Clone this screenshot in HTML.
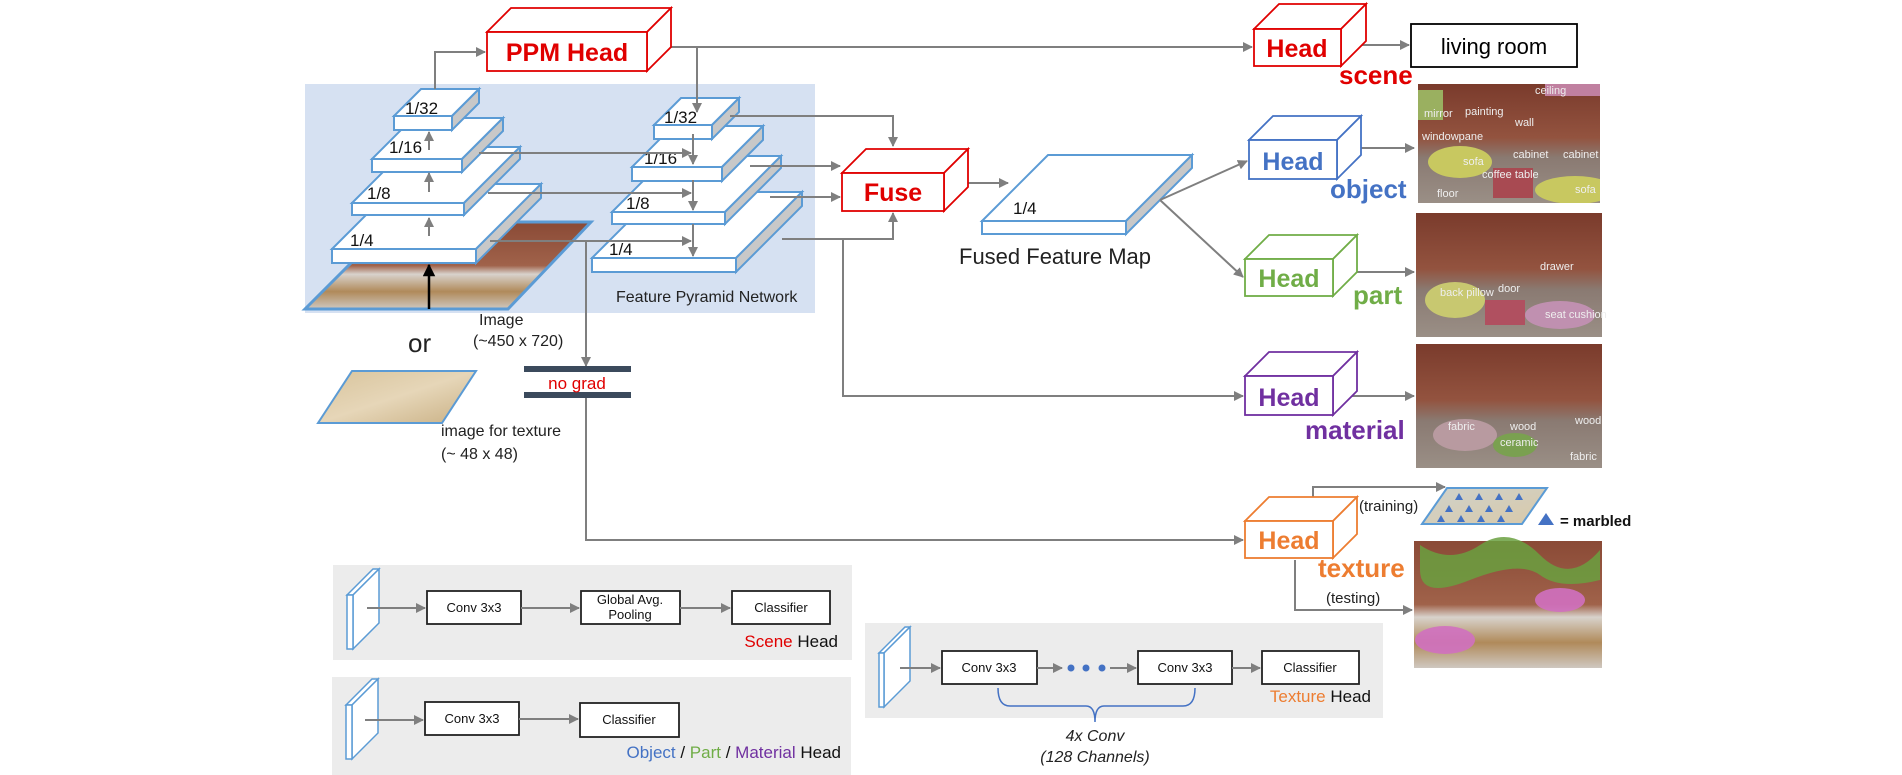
<!DOCTYPE html>
<html><head><meta charset="utf-8"><style>
html,body{margin:0;padding:0;background:#fff;}
svg{display:block;font-family:"Liberation Sans",sans-serif;}
</style></head><body>
<svg width="1902" height="775" viewBox="0 0 1902 775" xmlns="http://www.w3.org/2000/svg">
<defs>
<marker id="ar" viewBox="0 0 10 10" refX="9" refY="5" markerWidth="5" markerHeight="5" orient="auto"><path d="M0,0 L10,5 L0,10 z" fill="#7f7f7f"/></marker>
<marker id="arb" viewBox="0 0 10 10" refX="9" refY="5" markerWidth="5" markerHeight="5" orient="auto"><path d="M0,0 L10,5 L0,10 z" fill="#000"/></marker>
<linearGradient id="room" x1="0" y1="0" x2="0" y2="1">
<stop offset="0" stop-color="#7a3b2c"/><stop offset="0.45" stop-color="#93533f"/><stop offset="0.62" stop-color="#8a7a72"/><stop offset="1" stop-color="#9a8f86"/></linearGradient>
<linearGradient id="room2" x1="0" y1="0" x2="0" y2="1">
<stop offset="0" stop-color="#8a4a36"/><stop offset="0.5" stop-color="#a0624a"/><stop offset="0.6" stop-color="#d8d2cc"/><stop offset="0.8" stop-color="#b08a5a"/><stop offset="1" stop-color="#cfc8c0"/></linearGradient>
<linearGradient id="sand" x1="0" y1="0" x2="1" y2="1">
<stop offset="0" stop-color="#d8c49c"/><stop offset="0.5" stop-color="#e6d6b8"/><stop offset="1" stop-color="#c9b084"/></linearGradient>
<linearGradient id="sand2" x1="0" y1="0" x2="1" y2="1">
<stop offset="0" stop-color="#cfd2cc"/><stop offset="1" stop-color="#d9c9a8"/></linearGradient>
<clipPath id="c1"><rect x="1418" y="84" width="182" height="119"/></clipPath>
</defs>

<rect x="305" y="84" width="510" height="229" fill="#d6e1f2"/>

<polygon points="305,309 392,222 591,222 508,309" fill="url(#room2)" stroke="#5b9bd5" stroke-width="3"/>

<g stroke="#5b9bd5" stroke-width="2">
<polygon points="332,249 397,184 541,184 476,249" fill="#fff"/><polygon points="476,249 541,184 541,198 476,263" fill="#c8c8c8"/><rect x="332" y="249" width="144" height="14" fill="#fff"/>
<polygon points="352,203 408,147 520,147 464,203" fill="#fff"/><polygon points="464,203 520,147 520,159 464,215" fill="#c8c8c8"/><rect x="352" y="203" width="112" height="12" fill="#fff"/>
<polygon points="372,159 413,118 503,118 462,159" fill="#fff"/><polygon points="462,159 503,118 503,131 462,172" fill="#c8c8c8"/><rect x="372" y="159" width="90" height="13" fill="#fff"/>
<polygon points="394,116 421,89 479,89 452,116" fill="#fff"/><polygon points="452,116 479,89 479,103 452,130" fill="#c8c8c8"/><rect x="394" y="116" width="58" height="14" fill="#fff"/>
<polygon points="592,258 658,192 802,192 736,258" fill="#fff"/><polygon points="736,258 802,192 802,206 736,272" fill="#c8c8c8"/><rect x="592" y="258" width="144" height="14" fill="#fff"/>
<polygon points="612,212 668,156 781,156 725,212" fill="#fff"/><polygon points="725,212 781,156 781,168 725,224" fill="#c8c8c8"/><rect x="612" y="212" width="113" height="12" fill="#fff"/>
<polygon points="632,167 673,126 763,126 722,167" fill="#fff"/><polygon points="722,167 763,126 763,140 722,181" fill="#c8c8c8"/><rect x="632" y="167" width="90" height="14" fill="#fff"/>
<polygon points="654,125 681,98 739,98 712,125" fill="#fff"/><polygon points="712,125 739,98 739,112 712,139" fill="#c8c8c8"/><rect x="654" y="125" width="58" height="14" fill="#fff"/>
<polygon points="982,221 1048,155 1192,155 1126,221" fill="#fff"/><polygon points="1126,221 1192,155 1192,168 1126,234" fill="#c8c8c8"/><rect x="982" y="221" width="144" height="13" fill="#fff"/>
</g>

<g font-size="17" fill="#111">
<text x="405" y="114">1/32</text><text x="389" y="153">1/16</text><text x="367" y="199">1/8</text><text x="350" y="246">1/4</text>
<text x="664" y="123">1/32</text><text x="644" y="164">1/16</text><text x="626" y="209">1/8</text><text x="609" y="255">1/4</text>
<text x="1013" y="214">1/4</text>
</g>
<text x="616" y="302" font-size="16" fill="#222">Feature Pyramid Network</text>
<text x="959" y="264" font-size="22" fill="#222">Fused Feature Map</text>

<g stroke="#7f7f7f" stroke-width="2" fill="none" marker-end="url(#ar)">
<path d="M435 89 V52 H485"/>
<path d="M658 47 H1252"/>
<path d="M697 47 V112"/>
<path d="M429 150 V132"/><path d="M429 192 V173"/><path d="M429 236 V218"/>
<path d="M479 153 H691"/><path d="M488 193 H691"/><path d="M490 241 H691"/>
<path d="M693 134 V164"/><path d="M693 180 V210"/><path d="M693 224 V256"/>
<path d="M730 116 H893 V146"/>
<path d="M750 166 H840"/><path d="M770 197 H840"/>
<path d="M782 239 H893 V213"/>
<path d="M843 239 V396 H1243"/>
<path d="M954 183 H1008"/>
<path d="M1160 200 L1247 161"/><path d="M1160 200 L1243 277"/>
<path d="M1352 45 H1409"/><path d="M1348 148 H1414"/><path d="M1348 272 H1414"/><path d="M1348 396 H1414"/>
<path d="M586 241 V366"/>
<path d="M586 397 V540 H1243"/>
<path d="M1313 497 V487 H1445"/>
<path d="M1295 560 V610 H1412"/>
</g>
<path d="M429 309 V265" stroke="#000" stroke-width="2.5" marker-end="url(#arb)"/>

<g fill="#fff" stroke-width="1.8">
<g stroke="#e00000"><polygon points="487,32 511,8 671,8 647,32"/><polygon points="647,32 671,8 671,47 647,71"/><rect x="487" y="32" width="160" height="39"/></g>
<g stroke="#e00000"><polygon points="842,173 866,149 968,149 944,173"/><polygon points="944,173 968,149 968,187 944,211"/><rect x="842" y="173" width="102" height="38"/></g>
<g stroke="#e00000"><polygon points="1254,29 1279,4 1366,4 1341,29"/><polygon points="1341,29 1366,4 1366,41 1341,66"/><rect x="1254" y="29" width="87" height="37"/></g>
<g stroke="#4472c4"><polygon points="1249,140 1273,116 1361,116 1337,140"/><polygon points="1337,140 1361,116 1361,155 1337,179"/><rect x="1249" y="140" width="88" height="39"/></g>
<g stroke="#70ad47"><polygon points="1245,259 1269,235 1357,235 1333,259"/><polygon points="1333,259 1357,235 1357,272 1333,296"/><rect x="1245" y="259" width="88" height="37"/></g>
<g stroke="#7030a0"><polygon points="1245,376 1269,352 1357,352 1333,376"/><polygon points="1333,376 1357,352 1357,391 1333,415"/><rect x="1245" y="376" width="88" height="39"/></g>
<g stroke="#ed7d31"><polygon points="1245,521 1269,497 1357,497 1333,521"/><polygon points="1333,521 1357,497 1357,534 1333,558"/><rect x="1245" y="521" width="88" height="37"/></g>
</g>
<g font-weight="bold" font-size="25" text-anchor="middle">
<text x="567" y="61" fill="#e00000">PPM Head</text>
<text x="893" y="201" fill="#e00000">Fuse</text>
<text x="1297" y="57" fill="#e00000">Head</text>
<text x="1293" y="170" fill="#4472c4">Head</text>
<text x="1289" y="287" fill="#70ad47">Head</text>
<text x="1289" y="406" fill="#7030a0">Head</text>
<text x="1289" y="549" fill="#ed7d31">Head</text>
</g>
<g font-weight="bold" font-size="26">
<text x="1339" y="84" fill="#e00000">scene</text>
<text x="1330" y="198" fill="#4472c4">object</text>
<text x="1353" y="304" fill="#70ad47">part</text>
<text x="1305" y="439" fill="#7030a0">material</text>
<text x="1318" y="577" fill="#ed7d31">texture</text>
</g>

<rect x="1411" y="24" width="166" height="43" fill="#fff" stroke="#000" stroke-width="1.8"/>
<text x="1494" y="54" font-size="22" text-anchor="middle" fill="#000">living room</text>

<g font-size="11" fill="#eee">
<rect x="1418" y="84" width="182" height="119" fill="url(#room)"/>
<g clip-path="url(#c1)">
<ellipse cx="1460" cy="162" rx="32" ry="16" fill="#c8c860"/><ellipse cx="1575" cy="190" rx="40" ry="14" fill="#c8c860"/><rect x="1493" y="168" width="40" height="30" fill="#a84a52"/><path d="M1418 90 h25 v30 h-25z" fill="#9ab060"/><path d="M1545 84 h55 v12 h-55z" fill="#c080a0"/>
</g>
<text x="1424" y="117">mirror</text><text x="1465" y="115">painting</text><text x="1515" y="126">wall</text><text x="1422" y="140">windowpane</text><text x="1463" y="165">sofa</text><text x="1513" y="158">cabinet</text><text x="1563" y="158">cabinet</text><text x="1482" y="178">coffee table</text><text x="1437" y="197">floor</text><text x="1575" y="193">sofa</text><text x="1535" y="94">ceiling</text>
<rect x="1416" y="213" width="186" height="124" fill="url(#room)"/>
<ellipse cx="1455" cy="300" rx="30" ry="18" fill="#c8c870"/><ellipse cx="1560" cy="315" rx="35" ry="14" fill="#c090b0"/><rect x="1485" y="300" width="40" height="25" fill="#b05060"/>
<text x="1440" y="296">back pillow</text><text x="1540" y="270">drawer</text><text x="1498" y="292">door</text><text x="1545" y="318">seat cushion</text>
<rect x="1416" y="344" width="186" height="124" fill="url(#room)"/>
<ellipse cx="1465" cy="435" rx="32" ry="16" fill="#b89aa0"/><ellipse cx="1515" cy="445" rx="22" ry="12" fill="#7aa050"/>
<text x="1448" y="430">fabric</text><text x="1510" y="430">wood</text><text x="1575" y="424">wood</text><text x="1570" y="460">fabric</text><text x="1500" y="446">ceramic</text>
<rect x="1414" y="541" width="188" height="127" fill="url(#room2)"/>
<path d="M1420 545 q30 20 60 0 t60 10 t60 -5 v30 q-40 10 -60 -5 t-70 5 t-50 -10z" fill="#6aa040" opacity="0.85"/>
<ellipse cx="1445" cy="640" rx="30" ry="14" fill="#d070c0" opacity="0.9"/><ellipse cx="1560" cy="600" rx="25" ry="12" fill="#d070c0" opacity="0.9"/>
</g>

<polygon points="1422,524 1447,488 1547,488 1522,524" fill="url(#sand2)" stroke="#5b9bd5" stroke-width="2"/>
<g fill="#4472c4">
<path d="M1455 500 l4 -7 l4 7z"/><path d="M1475 500 l4 -7 l4 7z"/><path d="M1495 500 l4 -7 l4 7z"/><path d="M1515 500 l4 -7 l4 7z"/>
<path d="M1445 512 l4 -7 l4 7z"/><path d="M1465 512 l4 -7 l4 7z"/><path d="M1485 512 l4 -7 l4 7z"/><path d="M1505 512 l4 -7 l4 7z"/>
<path d="M1437 522 l4 -7 l4 7z"/><path d="M1457 522 l4 -7 l4 7z"/><path d="M1477 522 l4 -7 l4 7z"/><path d="M1497 522 l4 -7 l4 7z"/>
<path d="M1538 525 l8 -12 l8 12z"/>
</g>
<text x="1560" y="526" font-size="15" font-weight="bold" fill="#111">= marbled</text>
<text x="1359" y="511" font-size="15" fill="#222">(training)</text>
<text x="1326" y="603" font-size="15" fill="#222">(testing)</text>

<text x="479" y="325" font-size="16" fill="#222">Image</text>
<text x="473" y="346" font-size="16" fill="#222">(~450 x 720)</text>
<text x="408" y="352" font-size="26" fill="#222">or</text>
<polygon points="318,423 352,371 476,371 442,423" fill="url(#sand)" stroke="#5b9bd5" stroke-width="2"/>
<text x="441" y="436" font-size="16" fill="#222">image for texture</text>
<text x="441" y="459" font-size="16" fill="#222">(~ 48 x 48)</text>

<rect x="524" y="366" width="107" height="6" fill="#3b4a5c"/>
<rect x="524" y="392" width="107" height="6" fill="#3b4a5c"/>
<text x="577" y="389" font-size="17" text-anchor="middle" fill="#e00000">no grad</text>

<rect x="333" y="565" width="519" height="95" fill="#ececec"/>
<rect x="332" y="677" width="519" height="98" fill="#ececec"/>
<rect x="865" y="623" width="518" height="95" fill="#ececec"/>
<g fill="#fff" stroke="#5b9bd5" stroke-width="1.5">
<polygon points="347,595 373,569 379,569 353,595"/><polygon points="353,595 379,569 379,623 353,649"/><rect x="347" y="595" width="6" height="54"/>
<polygon points="346,705 372,679 378,679 352,705"/><polygon points="352,705 378,679 378,733 352,759"/><rect x="346" y="705" width="6" height="54"/>
<polygon points="879,653 905,627 910,627 884,653"/><polygon points="884,653 910,627 910,681 884,707"/><rect x="879" y="653" width="5" height="54"/>
</g>
<g fill="#fff" stroke="#222" stroke-width="1.8">
<rect x="427" y="591" width="94" height="33"/><rect x="581" y="591" width="99" height="33"/><rect x="732" y="591" width="98" height="33"/>
<rect x="425" y="702" width="94" height="33"/><rect x="580" y="703" width="99" height="34"/>
<rect x="942" y="651" width="95" height="33"/><rect x="1138" y="651" width="94" height="33"/><rect x="1262" y="651" width="97" height="33"/>
</g>
<g stroke="#7f7f7f" stroke-width="2" fill="none" marker-end="url(#ar)">
<path d="M367 608 H425"/><path d="M521 608 H579"/><path d="M680 608 H730"/>
<path d="M365 720 H423"/><path d="M519 719 H578"/>
<path d="M900 668 H940"/><path d="M1037 668 H1062"/><path d="M1110 668 H1136"/><path d="M1232 668 H1260"/>
</g>
<g fill="#4472c4"><circle cx="1071" cy="668" r="3.5"/><circle cx="1086" cy="668" r="3.5"/><circle cx="1102" cy="668" r="3.5"/></g>
<g font-size="13" text-anchor="middle" fill="#111">
<text x="474" y="612">Conv 3x3</text><text x="630" y="604">Global Avg.</text><text x="630" y="619">Pooling</text><text x="781" y="612">Classifier</text>
<text x="472" y="723">Conv 3x3</text><text x="629" y="724">Classifier</text>
<text x="989" y="672">Conv 3x3</text><text x="1185" y="672">Conv 3x3</text><text x="1310" y="672">Classifier</text>
</g>
<text x="838" y="647" font-size="17" text-anchor="end"><tspan fill="#e00000">Scene</tspan><tspan fill="#111"> Head</tspan></text>
<text x="841" y="758" font-size="17" text-anchor="end"><tspan fill="#4472c4">Object</tspan><tspan fill="#111"> / </tspan><tspan fill="#70ad47">Part</tspan><tspan fill="#111"> / </tspan><tspan fill="#7030a0">Material</tspan><tspan fill="#111"> Head</tspan></text>
<text x="1371" y="702" font-size="17" text-anchor="end"><tspan fill="#ed7d31">Texture</tspan><tspan fill="#111"> Head</tspan></text>
<path d="M998 688 Q998 706 1010 706 H1086 Q1095 706 1095 722 Q1095 706 1104 706 H1183 Q1195 706 1195 688" stroke="#4472c4" stroke-width="1.5" fill="none"/>
<text x="1095" y="741" font-size="16" font-style="italic" text-anchor="middle" fill="#222">4x Conv</text>
<text x="1095" y="762" font-size="16" font-style="italic" text-anchor="middle" fill="#222">(128 Channels)</text>
</svg>
</body></html>
